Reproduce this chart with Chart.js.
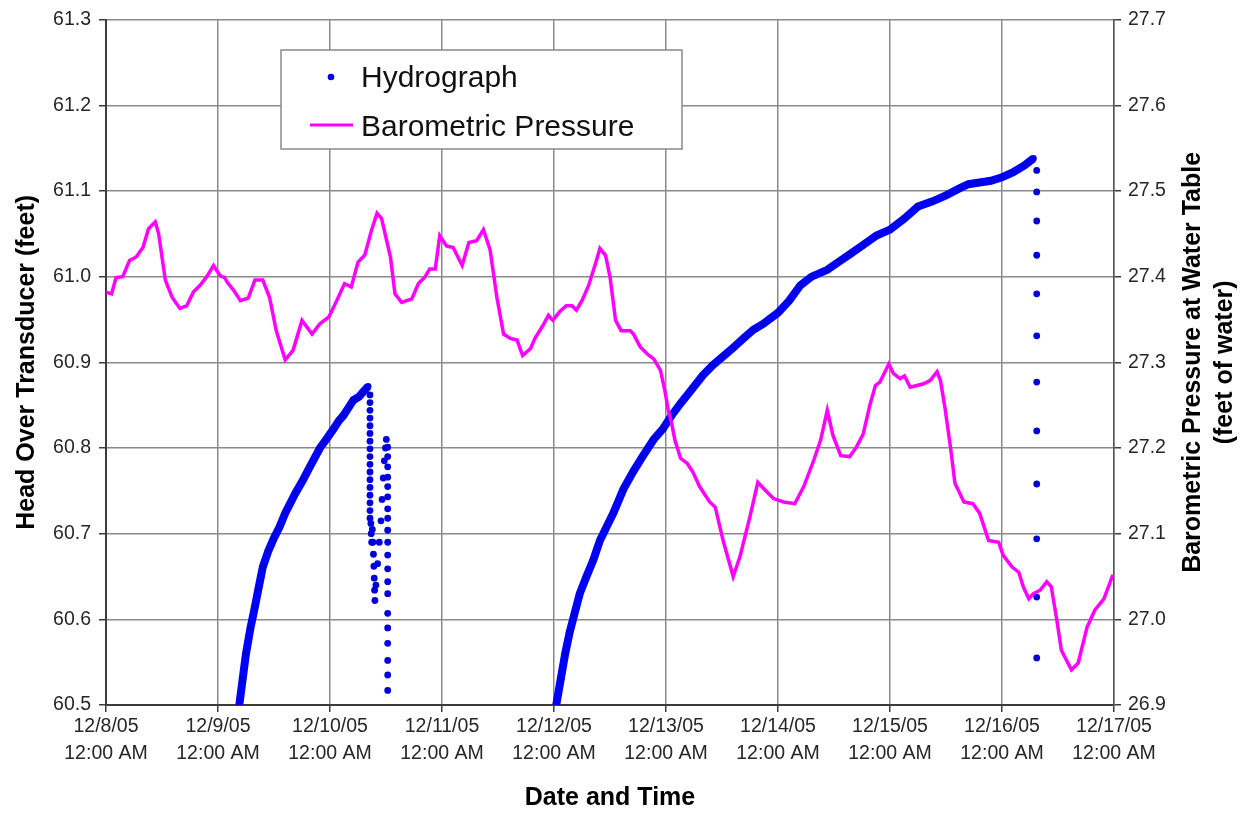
<!DOCTYPE html>
<html>
<head>
<meta charset="utf-8">
<script src="https://cdn.jsdelivr.net/npm/chart.js@4.4.1/dist/chart.umd.min.js"></script>
<style>
html,body{margin:0;padding:0;background:#fff;}
#wrap{width:1242px;height:814px;position:relative;}
</style>
</head>
<body>
<div id="wrap"><canvas id="c" width="1242" height="814"></canvas></div>
<script>
// ---------- data (x = days since 12/8/05 12:00 AM) ----------
const dayTicks = [0, 1, 2, 3, 4, 5, 6, 7, 8, 9];
const dateLabels = ['12/8/05', '12/9/05', '12/10/05', '12/11/05', '12/12/05', '12/13/05', '12/14/05', '12/15/05', '12/16/05', '12/17/05'];
const timeLabel = '12:00 AM';
const headTicks = [60.5, 60.6, 60.7, 60.8, 60.9, 61.0, 61.1, 61.2, 61.3];
const headTickLabels = ['60.5', '60.6', '60.7', '60.8', '60.9', '61.0', '61.1', '61.2', '61.3'];
const pressureTicks = [26.9, 27.0, 27.1, 27.2, 27.3, 27.4, 27.5, 27.6, 27.7];
const pressureTickLabels = ['26.9', '27.0', '27.1', '27.2', '27.3', '27.4', '27.5', '27.6', '27.7'];

// Hydrograph: first recovery
const rise1Day  = [1.19, 1.22, 1.25, 1.29, 1.33, 1.36, 1.40, 1.45, 1.50, 1.55, 1.60, 1.69, 1.76, 1.82, 1.91, 1.96, 2.03, 2.08, 2.12, 2.17, 2.21, 2.26, 2.30, 2.34];
const rise1Head = [60.500, 60.530, 60.560, 60.590, 60.615, 60.635, 60.661, 60.680, 60.695, 60.708, 60.724, 60.747, 60.763, 60.778, 60.800, 60.809, 60.822, 60.832, 60.838, 60.848, 60.856, 60.860, 60.866, 60.872];
// Hydrograph: drawdown / spike after first recovery
const drop1Day  = [2.357, 2.357, 2.357, 2.357, 2.357, 2.357, 2.357, 2.357, 2.357, 2.357, 2.357, 2.357, 2.357, 2.357, 2.357, 2.357, 2.357,
                   2.365, 2.368, 2.372, 2.378, 2.383, 2.388, 2.392, 2.395, 2.398, 2.401,
                   2.410, 2.425, 2.440, 2.455, 2.465, 2.475, 2.485, 2.495, 2.503,
                   2.515, 2.515, 2.515, 2.515, 2.515, 2.515, 2.515, 2.515, 2.515, 2.515, 2.515, 2.515, 2.515, 2.515, 2.515, 2.515, 2.515, 2.515, 2.515, 2.515];
const drop1Head = [60.862, 60.853, 60.844, 60.835, 60.826, 60.817, 60.808, 60.799, 60.790, 60.781, 60.772, 60.763, 60.754, 60.745, 60.736, 60.727, 60.718,
                   60.712, 60.700, 60.690, 60.705, 60.690, 60.676, 60.662, 60.648, 60.634, 60.622,
                   60.640, 60.665, 60.690, 60.715, 60.740, 60.765, 60.785, 60.800, 60.810,
                   60.801, 60.790, 60.778, 60.766, 60.755, 60.743, 60.729, 60.718, 60.704, 60.690, 60.675, 60.659, 60.644, 60.630, 60.607, 60.590, 60.572, 60.552, 60.535, 60.517];
// Hydrograph: second recovery
const rise2Day  = [4.02, 4.06, 4.10, 4.14, 4.18, 4.23, 4.29, 4.35, 4.41, 4.47, 4.53, 4.62, 4.71, 4.79, 4.89, 4.97, 5.05, 5.13, 5.24, 5.33, 5.42, 5.51, 5.60, 5.70, 5.78, 5.87, 6.00, 6.10, 6.20, 6.30, 6.44, 6.55, 6.64, 6.76, 6.88, 7.00, 7.13, 7.25, 7.38, 7.50, 7.62, 7.70, 7.80, 7.90, 8.00, 8.10, 8.20, 8.28];
const rise2Head = [60.500, 60.530, 60.560, 60.585, 60.605, 60.630, 60.650, 60.669, 60.692, 60.708, 60.724, 60.752, 60.773, 60.790, 60.810, 60.822, 60.838, 60.852, 60.870, 60.885, 60.897, 60.907, 60.917, 60.929, 60.938, 60.945, 60.958, 60.972, 60.990, 61.000, 61.008, 61.018, 61.026, 61.037, 61.048, 61.055, 61.068, 61.082, 61.088, 61.095, 61.103, 61.108, 61.110, 61.112, 61.116, 61.122, 61.130, 61.138];
// Hydrograph: final drawdown
const drop2Day  = [8.31, 8.31, 8.31, 8.31, 8.31, 8.31, 8.31, 8.31, 8.31, 8.31, 8.31, 8.31];
const drop2Head = [61.124, 61.099, 61.065, 61.025, 60.980, 60.931, 60.877, 60.820, 60.758, 60.694, 60.626, 60.555];

// Barometric pressure (feet of water)
const pressureDay = [0.00, 0.05, 0.09, 0.15, 0.21, 0.27, 0.33, 0.38, 0.44, 0.47, 0.53, 0.59, 0.66, 0.72, 0.78, 0.84, 0.90, 0.96, 1.02, 1.06, 1.08, 1.14, 1.20, 1.27, 1.33, 1.40, 1.46, 1.52, 1.60, 1.67, 1.75, 1.84, 1.91, 1.99, 2.06, 2.13, 2.19, 2.25, 2.31, 2.37, 2.42, 2.46, 2.54, 2.58, 2.64, 2.73, 2.79, 2.85, 2.89, 2.94, 2.98, 3.04, 3.10, 3.18, 3.24, 3.31, 3.37, 3.43, 3.49, 3.55, 3.61, 3.67, 3.72, 3.79, 3.83, 3.91, 3.95, 3.99, 4.05, 4.11, 4.16, 4.20, 4.25, 4.31, 4.37, 4.41, 4.46, 4.50, 4.55, 4.60, 4.68, 4.71, 4.77, 4.83, 4.89, 4.95, 4.99, 5.02, 5.05, 5.08, 5.13, 5.19, 5.24, 5.30, 5.39, 5.44, 5.51, 5.60, 5.66, 5.75, 5.82, 5.90, 5.96, 6.05, 6.15, 6.23, 6.32, 6.38, 6.44, 6.49, 6.56, 6.64, 6.70, 6.76, 6.82, 6.87, 6.91, 6.94, 6.99, 7.03, 7.09, 7.13, 7.18, 7.24, 7.30, 7.36, 7.42, 7.45, 7.49, 7.54, 7.58, 7.66, 7.74, 7.80, 7.88, 7.97, 8.01, 8.09, 8.15, 8.19, 8.24, 8.28, 8.34, 8.40, 8.44, 8.49, 8.53, 8.62, 8.68, 8.76, 8.83, 8.91, 8.99];
const pressureValue = [27.382, 27.380, 27.399, 27.400, 27.419, 27.423, 27.434, 27.456, 27.464, 27.450, 27.396, 27.376, 27.363, 27.366, 27.382, 27.390, 27.400, 27.413, 27.401, 27.399, 27.394, 27.384, 27.372, 27.375, 27.396, 27.396, 27.376, 27.337, 27.303, 27.314, 27.349, 27.333, 27.345, 27.353, 27.372, 27.392, 27.388, 27.417, 27.425, 27.454, 27.474, 27.468, 27.423, 27.380, 27.370, 27.374, 27.392, 27.400, 27.409, 27.409, 27.448, 27.436, 27.434, 27.413, 27.440, 27.442, 27.455, 27.431, 27.376, 27.333, 27.328, 27.326, 27.308, 27.316, 27.328, 27.345, 27.355, 27.349, 27.359, 27.366, 27.366, 27.361, 27.372, 27.390, 27.415, 27.433, 27.425, 27.400, 27.349, 27.337, 27.337, 27.333, 27.318, 27.310, 27.304, 27.291, 27.267, 27.244, 27.229, 27.209, 27.188, 27.182, 27.172, 27.155, 27.137, 27.131, 27.092, 27.050, 27.073, 27.120, 27.160, 27.149, 27.141, 27.137, 27.135, 27.155, 27.186, 27.209, 27.244, 27.215, 27.191, 27.190, 27.201, 27.216, 27.250, 27.273, 27.277, 27.285, 27.298, 27.287, 27.281, 27.284, 27.271, 27.273, 27.275, 27.279, 27.289, 27.279, 27.248, 27.201, 27.159, 27.137, 27.135, 27.124, 27.092, 27.090, 27.075, 27.061, 27.055, 27.038, 27.024, 27.030, 27.034, 27.044, 27.038, 26.999, 26.964, 26.941, 26.949, 26.991, 27.011, 27.024, 27.052];

const seriesNames = ['Hydrograph', 'Barometric Pressure'];
const yTitle = 'Head Over Transducer (feet)';
const y2TitleLines = ['Barometric Pressure at Water Table', '(feet of water)'];
const xTitle = 'Date and Time';

// ---------- build ----------
const pts = (xs, ys) => xs.map((x, i) => ({x: x, y: ys[i]}));
const hydroPoints = [].concat(pts(rise1Day, rise1Head), pts(drop1Day, drop1Head), pts(rise2Day, rise2Head), pts(drop2Day, drop2Head));
const hydroBand = [].concat(pts(rise1Day, rise1Head), [{x: 3, y: null}], pts(rise2Day, rise2Head));
const pressurePoints = pts(pressureDay, pressureValue);

const FONT = '"Liberation Sans", Arial, Helvetica, sans-serif';
const BLUE = '#0000ff';
const DOT = '#0000dd';
const MAGENTA = '#ff00ff';
const GRID = '#8a8a8a';
const AXIS = '#3c3c3c';
const TICKTEXT = '#262626';

const customLegend = {
  id: 'customLegend',
  afterDraw(chart) {
    const ctx = chart.ctx;
    const L = 281, T = 50, W = 401, H = 99;
    ctx.save();
    ctx.fillStyle = '#ffffff';
    ctx.fillRect(L, T, W, H);
    ctx.strokeStyle = '#8a8a8a';
    ctx.lineWidth = 1.5;
    ctx.strokeRect(L, T, W, H);
    ctx.fillStyle = DOT;
    ctx.beginPath();
    ctx.arc(331, 77, 3.3, 0, Math.PI * 2);
    ctx.fill();
    ctx.strokeStyle = MAGENTA;
    ctx.lineWidth = 3;
    ctx.beginPath();
    ctx.moveTo(310, 125);
    ctx.lineTo(353, 125);
    ctx.stroke();
    ctx.fillStyle = '#111';
    ctx.font = '30px ' + FONT;
    ctx.textAlign = 'left';
    ctx.textBaseline = 'alphabetic';
    ctx.fillText(seriesNames[0], 361, 87);
    ctx.fillText(seriesNames[1], 361, 136);
    ctx.restore();
  }
};

const rightTitle = {
  id: 'rightTitle',
  afterDraw(chart) {
    const ctx = chart.ctx;
    const a = chart.chartArea;
    const cy = (a.top + a.bottom) / 2;
    ctx.save();
    ctx.font = 'bold 25px ' + FONT;
    ctx.fillStyle = '#000';
    ctx.textAlign = 'center';
    ctx.textBaseline = 'middle';
    y2TitleLines.forEach((t, i) => {
      ctx.save();
      ctx.translate(a.right + 79 + i * 32, cy);
      ctx.rotate(-Math.PI / 2);
      ctx.fillText(t, 0, 0);
      ctx.restore();
    });
    ctx.restore();
  }
};

new Chart(document.getElementById('c'), {
  type: 'scatter',
  data: {
    datasets: [
      {
        label: seriesNames[1],
        type: 'line',
        data: pressurePoints,
        yAxisID: 'y2',
        borderColor: MAGENTA,
        backgroundColor: MAGENTA,
        borderWidth: 3.5,
        pointRadius: 0,
        tension: 0,
        fill: false,
        order: 0
      },
      {
        label: seriesNames[0],
        data: hydroPoints,
        yAxisID: 'y',
        backgroundColor: DOT,
        borderColor: DOT,
        pointRadius: 3.4,
        pointBorderWidth: 0,
        showLine: false,
        order: 1
      },
      {
        label: '',
        data: hydroBand,
        yAxisID: 'y',
        showLine: true,
        spanGaps: false,
        borderColor: BLUE,
        borderWidth: 8,
        pointRadius: 0,
        order: 2
      }
    ]
  },
  options: {
    responsive: false,
    animation: false,
    events: [],
    layout: { padding: { top: 19, left: 0, right: 0, bottom: 0 } },
    plugins: {
      legend: { display: false },
      tooltip: { enabled: false },
      title: { display: false }
    },
    scales: {
      x: {
        type: 'linear',
        position: 'bottom',
        min: 0,
        max: 9,
        afterBuildTicks: s => { s.ticks = dayTicks.map(v => ({value: v})); },
        afterFit: s => { s.height = 109; },
        ticks: {
          callback: (v, i) => [dateLabels[i], timeLabel],
          font: { family: FONT, size: 19.5, lineHeight: 1.38 },
          color: TICKTEXT,
          maxRotation: 0,
          autoSkip: false,
          padding: 1
        },
        grid: { color: GRID, lineWidth: 1.5, tickLength: 7, tickColor: AXIS },
        border: { color: AXIS, width: 2 },
        title: {
          display: true,
          text: xTitle,
          color: '#000',
          font: { family: FONT, size: 25, weight: 'bold' },
          padding: { top: 0, bottom: 1 }
        }
      },
      y: {
        type: 'linear',
        position: 'left',
        min: 60.5,
        max: 61.3,
        afterBuildTicks: s => { s.ticks = headTicks.map(v => ({value: v})); },
        afterFit: s => { s.width = 106; },
        ticks: {
          callback: (v, i) => headTickLabels[i],
          font: { family: FONT, size: 19.5 },
          color: TICKTEXT,
          padding: 8
        },
        grid: { color: GRID, lineWidth: 1.5, tickLength: 7, tickColor: AXIS },
        border: { color: AXIS, width: 2 },
        title: {
          display: true,
          text: yTitle,
          color: '#000',
          font: { family: FONT, size: 25, weight: 'bold' },
          padding: { top: 12.5, bottom: 0 }
        }
      },
      y2: {
        type: 'linear',
        position: 'right',
        min: 26.9,
        max: 27.7,
        afterBuildTicks: s => { s.ticks = pressureTicks.map(v => ({value: v})); },
        afterFit: s => { s.width = 128; },
        ticks: {
          callback: (v, i) => pressureTickLabels[i],
          font: { family: FONT, size: 19.5 },
          color: TICKTEXT,
          padding: 7
        },
        grid: { drawOnChartArea: false, color: GRID, lineWidth: 1.5, tickLength: 7, tickColor: AXIS },
        border: { color: '#555', width: 1.5 }
      }
    }
  },
  plugins: [customLegend, rightTitle]
});
</script>
</body>
</html>
